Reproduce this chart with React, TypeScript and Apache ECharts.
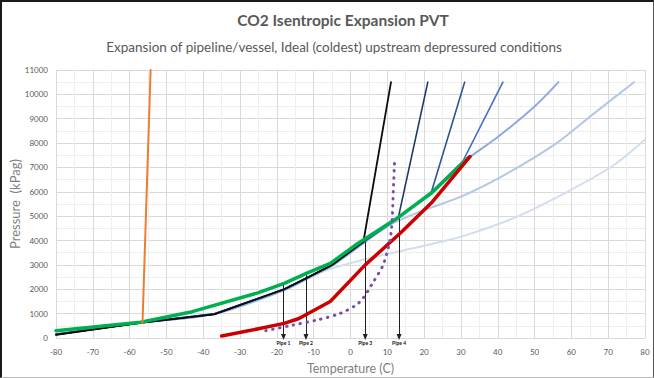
import React, { useEffect, useRef } from "react";
import * as echarts from "echarts";

// Temperature (C), Pressure (kPag) pairs
const blackLine = [[-80, 130], [-57, 620], [-37, 970], [-18, 2000], [-12, 2450], [-5, 3000], [3.5, 3950], [11, 10500]];
const navyLine = [[-80, 140], [-57, 625], [-37, 980], [-18, 2010], [-12, 2460], [-5, 3010], [3.5, 3960], [13, 4950], [21, 10500]];
const blue3Line = [[-80, 150], [-57, 630], [-37, 990], [-18, 2000], [-12, 2450], [-5, 3000], [3.5, 3950], [13, 4950], [22, 6000], [31, 10500]];
const blue4Line = [[-80, 150], [-57, 630], [-37, 990], [-18, 1990], [-12, 2440], [-5, 2990], [3.5, 3930], [13, 4930], [22, 6000], [30.5, 7250], [41.4, 10500]];
const light5Line = [[-80, 150], [-57, 630], [-37, 990], [-18, 1980], [-12, 2430], [-5, 2980], [3.5, 3910], [13, 4910], [22, 5980], [30, 7150], [40, 8250], [50, 9500], [56.5, 10500]];
const light6Line = [[-80, 150], [-57, 630], [-37, 990], [-18, 1970], [-12, 2420], [-5, 2960], [3.5, 3880], [10, 4600], [20, 5250], [30, 5800], [42.5, 6750], [56, 8000], [66, 9200], [77, 10500]];
const lightestLine = [[-80, 150], [-57, 630], [-37, 990], [-18, 1950], [-8, 2700], [-2, 2990], [9, 3420], [17, 3680], [24, 3930], [31, 4200], [44, 4900], [58, 5930], [71.5, 7090], [80, 8150]];
const greenLine = [[-80, 300], [-57, 650], [-43, 1080], [-25, 1860], [-18, 2240], [-12, 2650], [-5.5, 3060], [2, 3880], [12, 4850], [22, 5950], [32, 7400]];
const redLine = [[-35, 80], [-25, 380], [-18, 600], [-14, 800], [-5.5, 1500], [4, 3000], [13.5, 4300], [22, 5550], [32.5, 7450]];
const orangeLine = [[-56.5, 620], [-54.3, 11000]];
const purpleLine = [[-23, 300], [-16, 520], [-9, 740], [-3, 1000], [1.5, 1350], [3.5, 1650], [6, 2250], [9, 3050], [11, 4300], [11.7, 6300], [12, 7400]];

const pipeNames = ["Pipe 1", "Pipe 2", "Pipe 3", "Pipe 4"];
const pipeTemps = [-18.2, -12.1, 4.0, 13.2];
const pipeTops = [2250, 2650, 3950, 4950];
const pipeBottom = 40;

const xTicks = { min: -80, max: 80, interval: 10 };
const yTicks = { min: 0, max: 11000, interval: 1000 };

const FONT = "Lato, 'Open Sans', sans-serif";

function lineSeries(name: string, data: number[][], color: string, width: number, extra: any = {}) {
  return {
    name,
    type: "line",
    data,
    showSymbol: false,
    symbol: "none",
    lineStyle: { color, width, cap: "round", join: "round", ...(extra.lineStyle || {}) },
    z: extra.z || 2,
    smooth: extra.smooth || false,
  };
}

export default function App() {
  const ref = useRef<HTMLDivElement>(null);
  useEffect(() => {
    if (!ref.current) return;
    const chart = echarts.init(ref.current, undefined, { renderer: "svg" });
    const arrows = pipeNames.map((n, i) => [
      { coord: [pipeTemps[i], pipeTops[i]], symbol: "none" },
      {
        coord: [pipeTemps[i], pipeBottom],
        symbol: "triangle",
        symbolSize: [5, 6],
        label: {
          show: true,
          position: "end",
          formatter: n,
          fontSize: 5,
          fontWeight: "bold",
          color: "#111",
          distance: 3,
          fontFamily: FONT,
        },
      },
    ]);
    chart.setOption({
      animation: false,
      backgroundColor: "#ffffff",
      title: [
        {
          text: "CO2 Isentropic Expansion PVT",
          left: 338,
          top: 7,
          textAlign: "center",
          textStyle: { fontFamily: FONT, fontSize: 15.5, fontWeight: "bold", color: "#595959" },
        },
        {
          text: "Expansion of pipeline/vessel, Ideal (coldest) upstream depressured conditions",
          left: 329,
          top: 35,
          textAlign: "center",
          textStyle: { fontFamily: FONT, fontSize: 13.5, fontWeight: "normal", color: "#595959" },
        },
      ],
      grid: { left: 56, right: 9, top: 70, bottom: 40, containLabel: false, outerBoundsMode: "none" },
      xAxis: {
        type: "value",
        min: xTicks.min,
        max: xTicks.max,
        interval: xTicks.interval,
        name: "Temperature (C)",
        nameLocation: "middle",
        nameGap: 24,
        nameMoveOverlap: false,
        nameTextStyle: { fontFamily: FONT, fontSize: 12.5, color: "#7f7f7f" },
        axisLine: { show: true, lineStyle: { color: "#d9d9d9", width: 1 } },
        axisTick: { show: false },
        axisLabel: { fontFamily: FONT, fontSize: 8, color: "#595959", margin: 10 },
        splitLine: { show: true, lineStyle: { color: "#d9d9d9", width: 1 } },
        minorTick: { show: false, splitNumber: 2 },
        minorSplitLine: { show: true, lineStyle: { color: "#eeeeee", width: 1 } },
      },
      yAxis: {
        type: "value",
        min: yTicks.min,
        max: yTicks.max,
        interval: yTicks.interval,
        name: "Pressure  (kPag)",
        nameLocation: "middle",
        nameGap: 35,
        nameMoveOverlap: false,
        nameRotate: 90,
        nameTextStyle: { fontFamily: FONT, fontSize: 13, color: "#7f7f7f" },
        axisLine: { show: false },
        axisTick: { show: false },
        axisLabel: { fontFamily: FONT, fontSize: 8, color: "#595959", margin: 8, formatter: (v: number) => String(v) },
        splitLine: { show: true, lineStyle: { color: "#d9d9d9", width: 1 } },
        minorTick: { show: false, splitNumber: 2 },
        minorSplitLine: { show: true, lineStyle: { color: "#eeeeee", width: 1 } },
      },
      series: [
        lineSeries("lightest", lightestLine, "#d3ddef", 2, { smooth: 0.3, z: 2 }),
        lineSeries("light6", light6Line, "#b4c7e7", 2, { smooth: 0.3, z: 3 }),
        lineSeries("light5", light5Line, "#8faadc", 2, { smooth: 0.3, z: 4 }),
        lineSeries("blue4", blue4Line, "#4472c4", 1.6, { z: 5 }),
        lineSeries("blue3", blue3Line, "#2f5597", 1.6, { z: 6 }),
        lineSeries("navy", navyLine, "#1f3864", 1.6, { z: 7 }),
        lineSeries("black", blackLine, "#0d0d0d", 1.8, { z: 8 }),
        lineSeries("green", greenLine, "#00b050", 3.5, { z: 9 }),
        lineSeries("red", redLine, "#cc0000", 3.5, { z: 10 }),
        lineSeries("orange", orangeLine, "#ed7d31", 2, { z: 11 }),
        lineSeries("purple", purpleLine, "#7a4fa8", 3, { z: 12, lineStyle: { type: [0.5, 6.5], cap: "round" }, smooth: 0.3 }),
        {
          name: "pipes",
          type: "line",
          data: [],
          z: 13,
          markLine: {
            silent: true,
            animation: false,
            symbol: ["none", "triangle"],
            symbolSize: [5, 6],
            lineStyle: { color: "#222", width: 1, type: "solid" },
            label: { show: true },
            data: arrows,
          },
        },
      ],
    });
    return () => chart.dispose();
  }, []);

  return (
    <div
      style={{
        position: "fixed",
        left: 0,
        top: 0,
        width: 654,
        height: 378,
        background: "#fff",
        boxSizing: "border-box",
        borderLeft: "2px solid #1a1a1a",
        borderTop: "2px solid #1a1a1a",
        borderRight: "1px solid #555",
        borderBottom: "1px solid #bbb",
        overflow: "hidden",
      }}
    >
      <div ref={ref} style={{ position: "absolute", left: -2, top: -2, width: 654, height: 378 }} />
    </div>
  );
}
